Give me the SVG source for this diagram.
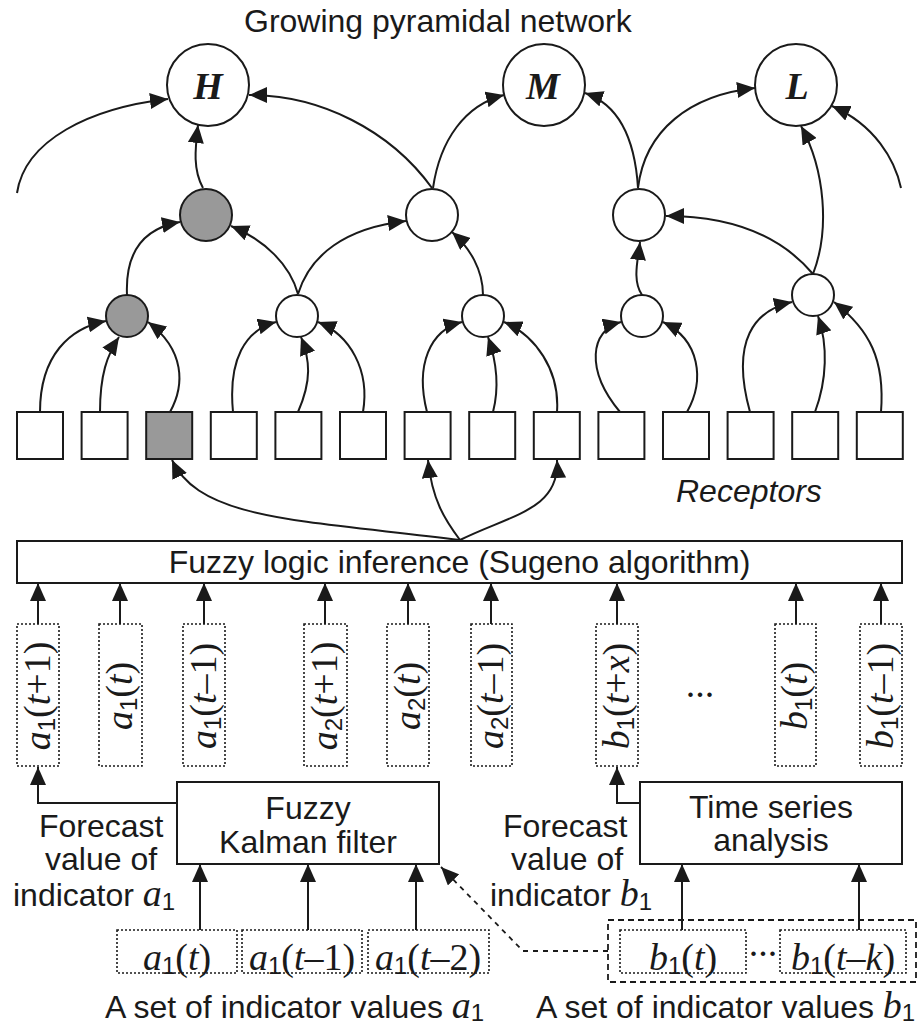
<svg xmlns="http://www.w3.org/2000/svg" width="918" height="1027" viewBox="0 0 918 1027">
<style>
.t{font-family:"Liberation Sans",Arial,sans-serif;font-size:32px;fill:#1a1a1a}
.m{font-family:"Liberation Serif","Times New Roman",serif;font-size:38px;fill:#1a1a1a}
.i{font-style:italic}
.sub{font-family:"Liberation Sans",Arial,sans-serif;font-size:24px;font-style:normal}
.big{font-family:"Liberation Serif","Times New Roman",serif;font-size:38px;font-weight:bold;font-style:italic;fill:#1a1a1a}
.c{fill:#fff;stroke:#1a1a1a;stroke-width:2}
.g{fill:#999;stroke:#1a1a1a;stroke-width:2}
.box{fill:#fff;stroke:#1a1a1a;stroke-width:2}
.dot{fill:none;stroke:#1a1a1a;stroke-width:1.6;stroke-dasharray:2,2}
.dash{fill:none;stroke:#1a1a1a;stroke-width:1.8;stroke-dasharray:6,4}
.e{fill:none;stroke:#1a1a1a;stroke-width:2;marker-end:url(#ah)}
.ed{fill:none;stroke:#1a1a1a;stroke-width:1.8;stroke-dasharray:5,5;marker-end:url(#ah)}
</style>
<defs>
<marker id="ah" markerUnits="userSpaceOnUse" markerWidth="18" markerHeight="16" refX="18" refY="8" orient="auto">
<path d="M0,0 L18,8 L0,16 z" fill="#1a1a1a"/>
</marker>
</defs>
<rect width="918" height="1027" fill="#fff"/>

<text class="t" x="244" y="32">Growing pyramidal network</text>

<g id="connectors">
<path class="e" d="M17,193 C25,140 90,108 168,99"/>
<path class="e" d="M203,188 C193,170 195,150 198,125"/>
<path class="e" d="M432,188 C390,130 320,95 249,95"/>
<path class="e" d="M433,188 C440,140 465,105 504,95"/>
<path class="e" d="M638,188 C635,140 620,105 585,93"/>
<path class="e" d="M638,188 C645,130 690,95 755,88"/>
<path class="e" d="M901,188 C895,160 875,125 832,106"/>
<path class="e" d="M127,295 C125,250 145,228 180,222"/>
<path class="e" d="M298,294 C290,265 265,240 231,226"/>
<path class="e" d="M298,294 C310,255 345,228 406,221"/>
<path class="e" d="M483,295 C483,270 470,248 452,232"/>
<path class="e" d="M642,295 C632,280 638,260 640,242"/>
<path class="e" d="M813,274 C780,235 730,216 666,216"/>
<path class="e" d="M813,274 C830,230 825,170 801,126"/>
<path class="e" d="M40,412 C40,355 70,328 106,321"/>
<path class="e" d="M100,412 C100,375 107,355 119,337"/>
<path class="e" d="M170,412 C185,385 185,350 148,322"/>
<path class="e" d="M233,412 C228,360 245,330 276,322"/>
<path class="e" d="M298,412 C312,380 310,360 301,337"/>
<path class="e" d="M363,412 C370,370 350,335 318,322"/>
<path class="e" d="M427,412 C415,365 430,330 462,322"/>
<path class="e" d="M493,412 C500,385 496,360 488,337"/>
<path class="e" d="M557,412 C560,370 535,335 504,322"/>
<path class="e" d="M620,412 C585,370 590,330 621,322"/>
<path class="e" d="M687,412 C705,380 700,340 663,322"/>
<path class="e" d="M750,412 C730,340 755,310 792,302"/>
<path class="e" d="M815,412 C827,380 828,345 818,316"/>
<path class="e" d="M881,412 C885,360 870,330 834,302"/>
<path class="e" d="M460,540 C300,520 200,520 172,460"/>
<path class="e" d="M460,540 C445,520 432,500 428,460"/>
<path class="e" d="M460,540 C510,515 560,510 557,460"/>
<path class="e" d="M38,624 V583"/>
<path class="e" d="M120,624 V583"/>
<path class="e" d="M204,624 V583"/>
<path class="e" d="M325,624 V583"/>
<path class="e" d="M408,624 V583"/>
<path class="e" d="M491,624 V583"/>
<path class="e" d="M617,624 V583"/>
<path class="e" d="M796,624 V583"/>
<path class="e" d="M881,624 V583"/>
<path class="e" d="M177,803 H38 V767"/>
<path class="e" d="M640,803 H617 V767"/>
<path class="e" d="M200,930 V864"/>
<path class="e" d="M308,930 V864"/>
<path class="e" d="M416,930 V864"/>
<path class="e" d="M682,930 V864"/>
<path class="e" d="M859,930 V864"/>
<path class="ed" d="M608,951 H523 L441,867"/>
</g>

<g id="out-H"><circle class="c" cx="208" cy="85" r="41"/><text class="big" x="208" y="99" text-anchor="middle">H</text></g>
<g id="out-M"><circle class="c" cx="544" cy="85" r="41"/><text class="big" x="543" y="99" text-anchor="middle">M</text></g>
<g id="out-L"><circle class="c" cx="796" cy="85" r="41"/><text class="big" x="797" y="99" text-anchor="middle">L</text></g>

<g id="n2a"><circle class="g" cx="206" cy="215" r="26"/></g>
<g id="n2b"><circle class="c" cx="432" cy="215" r="26"/></g>
<g id="n2c"><circle class="c" cx="639" cy="215" r="26"/></g>

<g id="n3a"><circle class="g" cx="127" cy="316" r="21"/></g>
<g id="n3b"><circle class="c" cx="297" cy="316" r="21"/></g>
<g id="n3c"><circle class="c" cx="483" cy="316" r="21"/></g>
<g id="n3d"><circle class="c" cx="642" cy="316" r="21"/></g>
<g id="n3e"><circle class="c" cx="813" cy="295" r="21"/></g>

<g id="receptors">
<rect class="box" x="17" y="412" width="46" height="47"/>
<rect class="box" x="81.6" y="412" width="46" height="47"/>
<rect class="g" x="146.2" y="412" width="46" height="47"/>
<rect class="box" x="210.8" y="412" width="46" height="47"/>
<rect class="box" x="275.4" y="412" width="46" height="47"/>
<rect class="box" x="340" y="412" width="46" height="47"/>
<rect class="box" x="404.6" y="412" width="46" height="47"/>
<rect class="box" x="469.2" y="412" width="46" height="47"/>
<rect class="box" x="533.8" y="412" width="46" height="47"/>
<rect class="box" x="598.4" y="412" width="46" height="47"/>
<rect class="box" x="663" y="412" width="46" height="47"/>
<rect class="box" x="727.6" y="412" width="46" height="47"/>
<rect class="box" x="792.2" y="412" width="46" height="47"/>
<rect class="box" x="856.8" y="412" width="46" height="47"/>
<text class="t i" x="676" y="502">Receptors</text>
</g>

<g id="fuzzy">
<rect class="box" x="17" y="541" width="885" height="42"/>
<text class="t" x="459.5" y="573" text-anchor="middle">Fuzzy logic inference (Sugeno algorithm)</text>
</g>

<g id="values">
<rect class="dot" x="17" y="624" width="42" height="142"/>
<text class="m" transform="translate(50,696) rotate(-90)" text-anchor="middle"><tspan class="i">a</tspan><tspan class="sub" dy="5">1</tspan><tspan dy="-5">(</tspan><tspan class="i">t</tspan>+1)</text>
<rect class="dot" x="99" y="624" width="43" height="142"/>
<text class="m" transform="translate(132,696) rotate(-90)" text-anchor="middle"><tspan class="i">a</tspan><tspan class="sub" dy="5">1</tspan><tspan dy="-5">(</tspan><tspan class="i">t</tspan>)</text>
<rect class="dot" x="183" y="624" width="42" height="142"/>
<text class="m" transform="translate(216,696) rotate(-90)" text-anchor="middle"><tspan class="i">a</tspan><tspan class="sub" dy="5">1</tspan><tspan dy="-5">(</tspan><tspan class="i">t</tspan>–1)</text>
<rect class="dot" x="304" y="624" width="43" height="142"/>
<text class="m" transform="translate(337,696) rotate(-90)" text-anchor="middle"><tspan class="i">a</tspan><tspan class="sub" dy="5">2</tspan><tspan dy="-5">(</tspan><tspan class="i">t</tspan>+1)</text>
<rect class="dot" x="387" y="624" width="42" height="142"/>
<text class="m" transform="translate(420,696) rotate(-90)" text-anchor="middle"><tspan class="i">a</tspan><tspan class="sub" dy="5">2</tspan><tspan dy="-5">(</tspan><tspan class="i">t</tspan>)</text>
<rect class="dot" x="471" y="624" width="41" height="142"/>
<text class="m" transform="translate(503,696) rotate(-90)" text-anchor="middle"><tspan class="i">a</tspan><tspan class="sub" dy="5">2</tspan><tspan dy="-5">(</tspan><tspan class="i">t</tspan>–1)</text>
<rect class="dot" x="596" y="624" width="42" height="142"/>
<text class="m" transform="translate(629,696) rotate(-90)" text-anchor="middle"><tspan class="i">b</tspan><tspan class="sub" dy="5">1</tspan><tspan dy="-5">(</tspan><tspan class="i">t</tspan>+<tspan class="i">x</tspan>)</text>
<text class="m" x="700" y="697" text-anchor="middle">...</text>
<rect class="dot" x="775" y="624" width="41" height="142"/>
<text class="m" transform="translate(807,696) rotate(-90)" text-anchor="middle"><tspan class="i">b</tspan><tspan class="sub" dy="5">1</tspan><tspan dy="-5">(</tspan><tspan class="i">t</tspan>)</text>
<rect class="dot" x="860" y="624" width="42" height="142"/>
<text class="m" transform="translate(893,696) rotate(-90)" text-anchor="middle"><tspan class="i">b</tspan><tspan class="sub" dy="5">1</tspan><tspan dy="-5">(</tspan><tspan class="i">t</tspan>–1)</text>
</g>

<g id="kalman">
<rect class="box" x="177" y="782" width="262" height="82"/>
<text class="t" x="308" y="819" text-anchor="middle">Fuzzy</text>
<text class="t" x="308" y="853" text-anchor="middle">Kalman filter</text>
</g>

<g id="timeseries">
<rect class="box" x="640" y="782" width="262" height="82"/>
<text class="t" x="771" y="818" text-anchor="middle">Time series</text>
<text class="t" x="771" y="851" text-anchor="middle">analysis</text>
</g>

<g id="labels">
<text class="t" x="39" y="837">Forecast</text>
<text class="t" x="45" y="870">value of</text>
<text class="t" x="13" y="906">indicator <tspan class="m i" font-size="38">a</tspan><tspan class="sub" dy="4">1</tspan></text>
<text class="t" x="503" y="837">Forecast</text>
<text class="t" x="511" y="870">value of</text>
<text class="t" x="490" y="906">indicator <tspan class="m i" font-size="38">b</tspan><tspan class="sub" dy="4">1</tspan></text>
</g>

<g id="set-a">
<rect class="dot" x="117" y="930" width="120" height="43"/>
<text class="m" x="177" y="970" text-anchor="middle"><tspan class="i">a</tspan><tspan class="sub" dy="4">1</tspan><tspan dy="-4">(</tspan><tspan class="i">t</tspan>)</text>
<rect class="dot" x="242" y="930" width="120" height="43"/>
<text class="m" x="302" y="970" text-anchor="middle"><tspan class="i">a</tspan><tspan class="sub" dy="4">1</tspan><tspan dy="-4">(</tspan><tspan class="i">t</tspan>–1)</text>
<rect class="dot" x="368" y="930" width="121" height="43"/>
<text class="m" x="428" y="970" text-anchor="middle"><tspan class="i">a</tspan><tspan class="sub" dy="4">1</tspan><tspan dy="-4">(</tspan><tspan class="i">t</tspan>–2)</text>
<text class="t" x="105" y="1018">A set of indicator values <tspan class="m i" font-size="38">a</tspan><tspan class="sub" dy="3">1</tspan></text>
</g>

<g id="set-b">
<rect class="dash" x="608" y="920" width="308" height="62"/>
<rect class="dot" x="620" y="930" width="126" height="43"/>
<text class="m" x="683" y="970" text-anchor="middle"><tspan class="i">b</tspan><tspan class="sub" dy="4">1</tspan><tspan dy="-4">(</tspan><tspan class="i">t</tspan>)</text>
<text class="m" x="763" y="956" text-anchor="middle" font-size="30">...</text>
<rect class="dot" x="780" y="930" width="126" height="43"/>
<text class="m" x="843" y="970" text-anchor="middle"><tspan class="i">b</tspan><tspan class="sub" dy="4">1</tspan><tspan dy="-4">(</tspan><tspan class="i">t</tspan>–<tspan class="i">k</tspan>)</text>
<text class="t" x="536" y="1018">A set of indicator values <tspan class="m i" font-size="38">b</tspan><tspan class="sub" dy="3">1</tspan></text>
</g>
</svg>
